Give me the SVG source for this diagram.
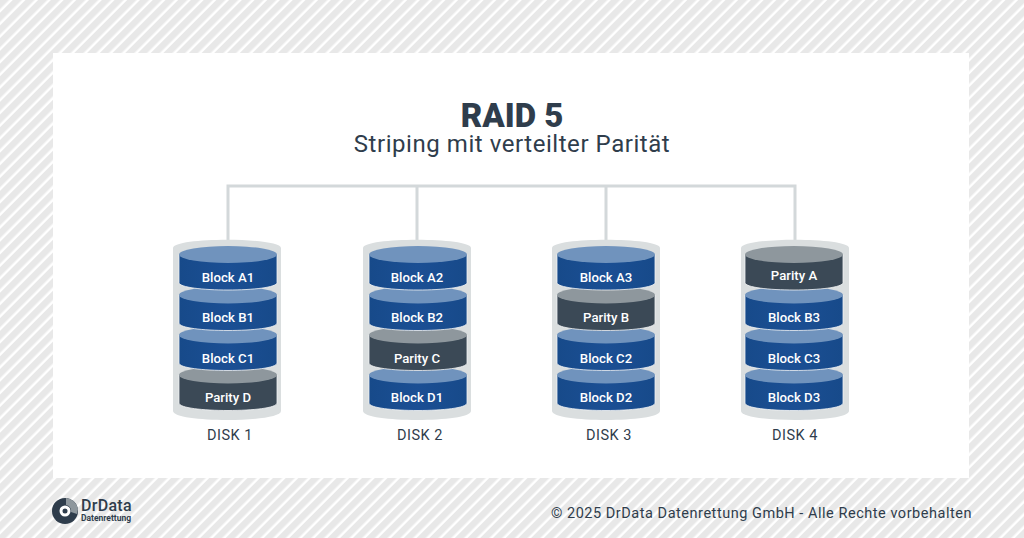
<svg xmlns="http://www.w3.org/2000/svg" xmlns:xlink="http://www.w3.org/1999/xlink" width="1024" height="538" viewBox="0 0 1024 538">
<style>
text{font-family:"Roboto","Liberation Sans",sans-serif}
.lbl{font-size:13.2px;font-weight:500;fill:#fff;text-anchor:middle}
.dsk{font-size:14.5px;fill:#2f3d4c;text-anchor:middle;letter-spacing:.5px}
.conn{fill:none;stroke:#d3d8da;stroke-width:3}
</style>
<defs>
<pattern id="st" width="9" height="9" patternUnits="userSpaceOnUse" patternTransform="rotate(45)">
<rect width="9" height="9" fill="#fff"/><rect width="6.5" height="9" fill="#e8e8e8"/>
</pattern>
<linearGradient id="bl" x1="0" x2="1" y1="0" y2="0"><stop offset="0" stop-color="#174a8a"/><stop offset=".5" stop-color="#1b4f94"/><stop offset="1" stop-color="#174a8a"/></linearGradient>
<g id="shell"><path d="M-54 8C-54 -3 54 -3 54 8V171C54 183 -54 183 -54 171Z" fill="#dadedf"/></g>
<g id="blue"><path d="M-49 0V28C-49 38 49 38 49 28V0Z" fill="url(#bl)" stroke="#f2f4f5" stroke-width=".8"/><ellipse rx="49" ry="8.5" fill="#7093bd"/></g>
<g id="dark"><path d="M-49 0V28C-49 38 49 38 49 28V0Z" fill="#3b4956" stroke="#f2f4f5" stroke-width=".8"/><ellipse rx="49" ry="8.5" fill="#8e979d"/></g>
</defs>
<rect id="bg" width="1024" height="538" fill="url(#st)"/>
<rect id="panel" x="53" y="53" width="916" height="425" fill="#fff"/>
<g id="title">
<text x="512" y="127" font-size="33" font-weight="900" fill="#2f3d4c" text-anchor="middle">RAID 5</text>
<text x="512" y="152" font-size="24" fill="#2f3d4c" text-anchor="middle" letter-spacing=".55">Striping mit verteilter Parität</text>
</g>
<g id="connectors" class="conn">
<path d="M228 241V186H795V241M417 186V241M606 186V241"/>
</g>
<g id="disk1">
<use href="#shell" x="227" y="240"/>
<use href="#dark" x="228" y="375"/><use href="#blue" x="228" y="335"/><use href="#blue" x="228" y="295"/><use href="#blue" x="228" y="254.5"/>
<text class="lbl" x="228" y="282">Block A1</text><text class="lbl" x="228" y="322">Block B1</text><text class="lbl" x="228" y="363">Block C1</text><text class="lbl" x="228" y="402">Parity D</text>
<text class="dsk" x="230" y="440">DISK 1</text>
</g>
<g id="disk2">
<use href="#shell" x="417" y="240"/>
<use href="#blue" x="418" y="375"/><use href="#dark" x="418" y="335"/><use href="#blue" x="418" y="295"/><use href="#blue" x="418" y="254.5"/>
<text class="lbl" x="417" y="282">Block A2</text><text class="lbl" x="417" y="322">Block B2</text><text class="lbl" x="417" y="363">Parity C</text><text class="lbl" x="417" y="402">Block D1</text>
<text class="dsk" x="420" y="440">DISK 2</text>
</g>
<g id="disk3">
<use href="#shell" x="606" y="240"/>
<use href="#blue" x="606" y="375"/><use href="#blue" x="606" y="335"/><use href="#dark" x="606" y="295"/><use href="#blue" x="606" y="254.5"/>
<text class="lbl" x="606" y="282">Block A3</text><text class="lbl" x="606" y="322">Parity B</text><text class="lbl" x="606" y="363">Block C2</text><text class="lbl" x="606" y="402">Block D2</text>
<text class="dsk" x="609" y="440">DISK 3</text>
</g>
<g id="disk4">
<use href="#shell" x="795" y="240"/>
<use href="#blue" x="794" y="375"/><use href="#blue" x="794" y="335"/><use href="#blue" x="794" y="295"/><use href="#dark" x="794" y="254.5"/>
<text class="lbl" x="794" y="280">Parity A</text><text class="lbl" x="794" y="322">Block B3</text><text class="lbl" x="794" y="363">Block C3</text><text class="lbl" x="794" y="402">Block D3</text>
<text class="dsk" x="795" y="440">DISK 4</text>
</g>
<g id="logo">
<circle cx="65" cy="511" r="13" fill="#2f3d4c"/>
<path d="M66 498A13 13 0 0 1 78 509L77 514L71 512A6 6 0 0 0 66 505Z" fill="#8e979d"/>
<circle cx="65" cy="511" r="5.5" fill="#fff"/><circle cx="65" cy="511" r="2.5" fill="#2f3d4c"/>
<text x="81" y="511" font-size="16" font-weight="500" fill="#2f3d4c" letter-spacing=".3">DrData</text>
<text x="81" y="520.5" font-size="8.5" font-weight="700" fill="#2f3d4c">Datenrettung</text>
</g>
<text id="copyright" x="972" y="518" font-size="14.5" fill="#2f3d4c" text-anchor="end" letter-spacing=".53">© 2025 DrData Datenrettung GmbH - Alle Rechte vorbehalten</text>
</svg>
